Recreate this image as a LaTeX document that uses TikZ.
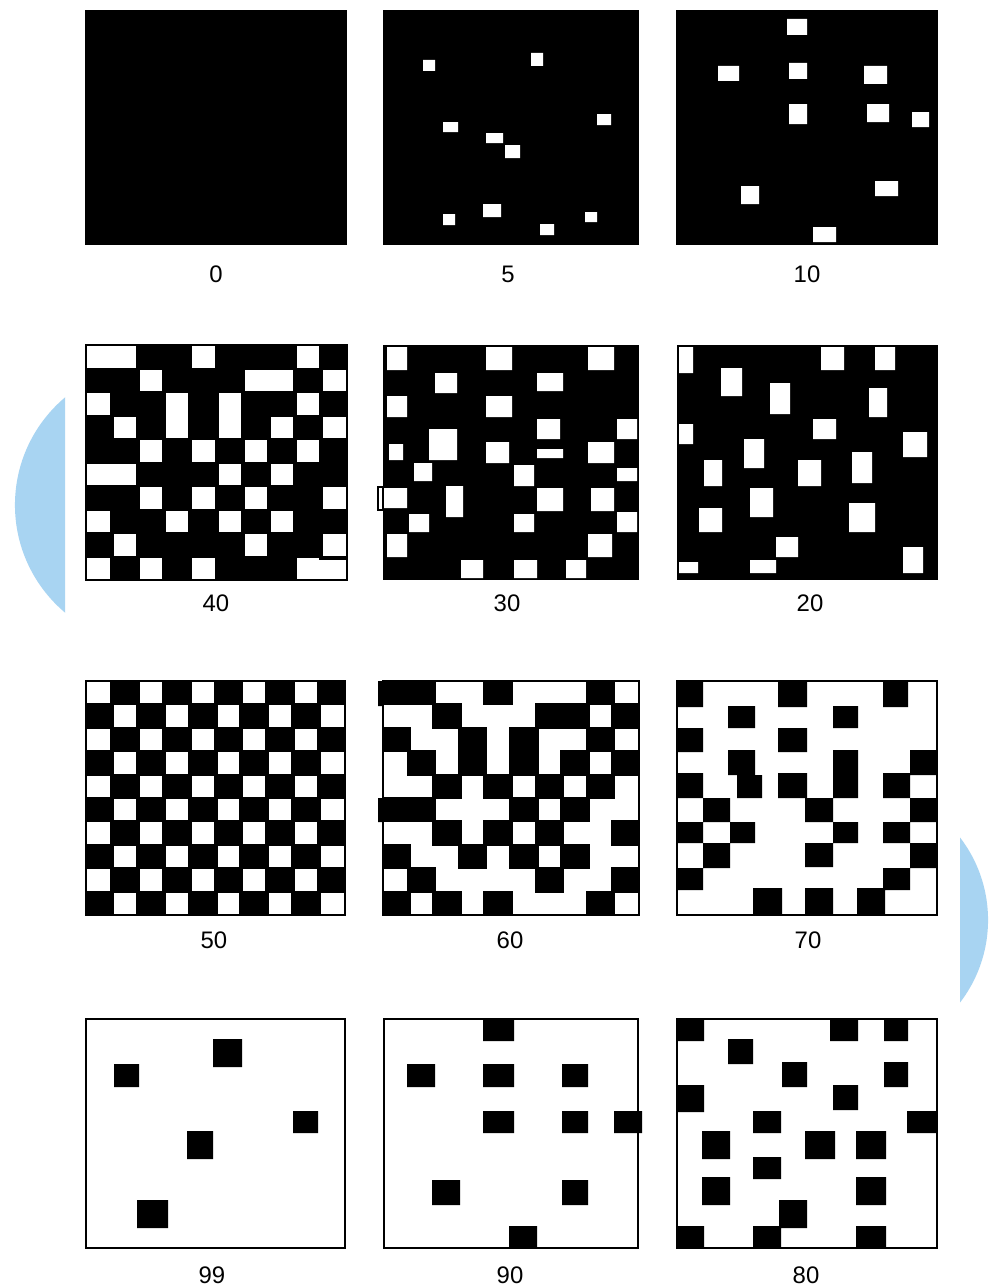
\documentclass[tikz,border=0pt]{standalone}
\usepackage{fontspec}
\setmainfont{Liberation Sans}
\usepackage{tikz}
\definecolor{blobblue}{RGB}{168,212,242}

\begin{document}
\begin{tikzpicture}[x=0.025cm,y=-0.025cm,
hole/.style={fill=white},
blot/.style={fill=black},
frame/.style={draw=black,line width=1.1pt},
lbl/.style={font=\fontsize{17}{20}\selectfont,inner sep=0pt},
blob/.style={fill=blobblue}]
\fill[white] (0,0) rectangle (990,1288);
\useasboundingbox (0,0) rectangle (990,1288);

% side blobs
\begin{scope}
\clip (0,0) rectangle (65,1288);
\fill[blob] (155.6,505) circle[radius=3.515cm];
\end{scope}
\begin{scope}
\clip (960,0) rectangle (990,1288);
\fill[blob] (852.5,920) circle[radius=3.3875cm];
\end{scope}

% row 1: 0, 5, 10
\fill[blot] (85,10) rectangle (347,245);
\begin{scope}[shift={(383,9)}]
\fill[blot] (0,1) rectangle (256,236);
\fill[hole] (40,51) rectangle (52,62) (148,44) rectangle (160,57)
 (214,105) rectangle (228,116) (60,113) rectangle (75,123)
 (103,124) rectangle (120,134) (122,136) rectangle (137,149)
 (100,195) rectangle (118,208) (60,205) rectangle (72,216)
 (202,203) rectangle (214,213) (157,215) rectangle (171,226);
\end{scope}
\begin{scope}[shift={(676,10)}]
\fill[blot] (0,0) rectangle (262,235);
\fill[hole] (111,9) rectangle (131,25) (42,56) rectangle (63,71)
 (113,53) rectangle (131,69) (188,56) rectangle (211,74)
 (113,94) rectangle (131,114) (191,94) rectangle (213,112)
 (236,102) rectangle (253,117) (65,176) rectangle (83,194)
 (199,171) rectangle (222,186) (137,217) rectangle (160,232);
\end{scope}
\node[lbl] (l0) at (216,274) {0};
\node[lbl] (l5) at (508,274) {5};
\node[lbl] (l10) at (807,274) {10};

% row 2: 40, 30, 20
\begin{scope}[shift={(86,345)}]
\fill[white] (0,0) rectangle (261,235);
\clip (0,0) rectangle (261,235);
\foreach \bits [count=\rr from 0] in {{0,0,1,1,0,1,1,1,0,1},{1,1,0,1,1,1,0,0,1,0},
  {0,1,1,0,1,0,1,1,0,1},{1,0,1,0,1,0,1,0,1,0},{1,1,0,1,0,1,0,1,0,1},
  {0,0,1,1,1,0,1,0,1,1},{1,1,0,1,0,1,0,1,1,0},{0,1,1,0,1,0,1,0,1,1},
  {1,0,1,1,1,1,0,1,1,0},{0,1,0,1,0,1,1,1,0,0}}
  \foreach \cell [count=\cc from 0] in \bits
    {\ifnum\cell=1 \fill[blot] (\cc*26.1-2,\rr*23.5-1) rectangle (\cc*26.1+28.1,\rr*23.5+24.5);\fi}
\fill[blot] (233,211) rectangle (261,214.5);
\end{scope}
\draw[frame] (86,345) rectangle (347,580);
\begin{scope}[shift={(383,345)}]
\fill[blot] (0,0) rectangle (256,235);
\fill[hole] (4,2) rectangle (24,25) (103,2) rectangle (129,25)
 (205,2) rectangle (231,25) (52,28) rectangle (74,48)
 (154,28) rectangle (180,46) (4,51) rectangle (24,72)
 (103,51) rectangle (129,72) (154,74) rectangle (177,94)
 (234,74) rectangle (254,94) (46,84) rectangle (74,115)
 (6,99) rectangle (20,115) (103,97) rectangle (126,118)
 (154,104) rectangle (180,113) (205,97) rectangle (231,118)
 (31,118) rectangle (49,136) (131,120) rectangle (151,141)
 (234,123) rectangle (254,136) (0,143) rectangle (24,163)
 (63,141) rectangle (80,172) (154,143) rectangle (180,166)
 (208,143) rectangle (231,166) (26,169) rectangle (46,187)
 (131,169) rectangle (151,187) (234,167) rectangle (254,187)
 (4,189) rectangle (24,212) (205,189) rectangle (229,212)
 (78,215) rectangle (100,233) (131,215) rectangle (154,233)
 (183,215) rectangle (203,233);
\draw[frame,fill=white] (-5,142) rectangle (0,165);
\end{scope}
\begin{scope}[shift={(677,345)}]
\fill[blot] (0,0) rectangle (261,235);
\fill[hole] (2,2) rectangle (16,28) (144,2) rectangle (167,25)
 (198,2) rectangle (218,25) (44,23) rectangle (65,51)
 (93,38) rectangle (113,69) (192,43) rectangle (210,72)
 (2,79) rectangle (16,99) (136,74) rectangle (159,94)
 (226,87) rectangle (250,112) (67,94) rectangle (87,123)
 (27,115) rectangle (45,141) (121,115) rectangle (144,141)
 (175,107) rectangle (195,138) (73,143) rectangle (96,172)
 (22,163) rectangle (45,187) (172,158) rectangle (198,187)
 (99,192) rectangle (121,212) (226,202) rectangle (246,228)
 (2,217) rectangle (21,228) (73,215) rectangle (99,228);
\end{scope}
\node[lbl] (l40) at (216,603) {40};
\node[lbl] (l30) at (507,603) {30};
\node[lbl] (l20) at (810,603) {20};

% row 3: 50, 60, 70
\begin{scope}[shift={(86,681)}]
\fill[white] (0,0) rectangle (259,234);
\clip (0,0) rectangle (259,234);
\foreach \rr in {0,...,9}
  \foreach \cc in {0,...,9}
    {\pgfmathtruncatemacro{\odd}{mod(\rr+\cc,2)}
     \ifnum\odd=1 \fill[blot] (\cc*25.9-2,\rr*23.4-1) rectangle (\cc*25.9+27.9,\rr*23.4+24.4);\fi}
\end{scope}
\draw[frame] (86,681) rectangle (345,915);
\begin{scope}[shift={(383,681)}]
\fill[white] (0,0) rectangle (256,234);
\fill[blot] (-5,0) rectangle (0,25) (-5,117) rectangle (0,141);
\clip (0,0) rectangle (256,234);
\foreach \bits [count=\rr from 0] in {{1,1,0,0,1,0,0,0,1,0},{0,0,1,0,0,0,1,1,0,1},
  {1,0,0,1,0,1,0,0,1,0},{0,1,0,1,0,1,0,1,0,1},{0,0,1,0,1,0,1,0,1,0},
  {1,1,0,0,0,1,0,1,0,0},{0,0,1,0,1,0,1,0,0,1},{1,0,0,1,0,1,0,1,0,0},
  {0,1,0,0,0,0,1,0,0,1},{1,0,1,0,1,0,0,0,1,0}}
  \foreach \cell [count=\cc from 0] in \bits
    {\ifnum\cell=1 \fill[blot] (\cc*25.6-2,\rr*23.4-1) rectangle (\cc*25.6+27.6,\rr*23.4+24.4);\fi}
\end{scope}
\draw[frame] (383,681) rectangle (639,915);
\begin{scope}[shift={(677,681)}]
\fill[white] (0,0) rectangle (260,234);
\fill[blot] (0,1) rectangle (26,26) (101,1) rectangle (130,26)
 (206,1) rectangle (231,26) (51,25) rectangle (78,47)
 (156,25) rectangle (181,47) (0,47) rectangle (26,71)
 (101,47) rectangle (130,71) (51,69) rectangle (78,94)
 (60,94) rectangle (85,117) (156,69) rectangle (181,117)
 (233,69) rectangle (259,94) (0,92) rectangle (26,117)
 (101,92) rectangle (130,117) (206,92) rectangle (233,117)
 (26,117) rectangle (53,141) (128,117) rectangle (156,141)
 (233,117) rectangle (259,141) (0,141) rectangle (26,162)
 (53,141) rectangle (78,162) (156,141) rectangle (181,162)
 (206,141) rectangle (233,162) (26,162) rectangle (53,187)
 (128,162) rectangle (156,186) (233,162) rectangle (259,187)
 (0,187) rectangle (26,209) (206,187) rectangle (233,209)
 (76,207) rectangle (105,234) (128,207) rectangle (156,234)
 (180,207) rectangle (208,234);
\end{scope}
\draw[frame] (677,681) rectangle (937,915);
\node[lbl] (l50) at (214,940) {50};
\node[lbl] (l60) at (510,940) {60};
\node[lbl] (l70) at (808,940) {70};

% row 4: 99, 90, 80
\begin{scope}[shift={(86,1019)}]
\fill[blot] (28,45) rectangle (53,68) (127,20) rectangle (156,48)
 (207,92) rectangle (232,114) (101,112) rectangle (127,140)
 (51,181) rectangle (82,209);
\end{scope}
\draw[frame] (86,1019) rectangle (345,1248);
\begin{scope}[shift={(384,1019)}]
\fill[blot] (99,0) rectangle (130,22) (23,45) rectangle (51,68)
 (99,45) rectangle (130,68) (178,45) rectangle (204,68)
 (99,92) rectangle (130,114) (178,92) rectangle (204,114)
 (230,92) rectangle (258,114) (48,161) rectangle (76,186)
 (178,161) rectangle (204,186) (125,207) rectangle (153,229);
\end{scope}
\draw[frame] (384,1019) rectangle (638,1248);
\begin{scope}[shift={(677,1019)}]
\fill[blot] (0,0) rectangle (27,22) (153,0) rectangle (181,22)
 (207,0) rectangle (231,22) (51,20) rectangle (76,45)
 (105,43) rectangle (130,68) (207,43) rectangle (231,68)
 (0,66) rectangle (27,93) (156,66) rectangle (181,91)
 (76,92) rectangle (104,114) (230,92) rectangle (260,114)
 (25,112) rectangle (53,140) (128,112) rectangle (158,140)
 (179,112) rectangle (209,140) (76,138) rectangle (104,160)
 (25,158) rectangle (53,186) (179,158) rectangle (209,186)
 (102,181) rectangle (130,209) (0,207) rectangle (27,229)
 (76,207) rectangle (104,229) (179,207) rectangle (209,229);
\end{scope}
\draw[frame] (677,1019) rectangle (937,1248);
\node[lbl] (l99) at (212,1275) {99};
\node[lbl] (l90) at (510,1275) {90};
\node[lbl] (l80) at (806,1275) {80};
\end{tikzpicture}
\end{document}
